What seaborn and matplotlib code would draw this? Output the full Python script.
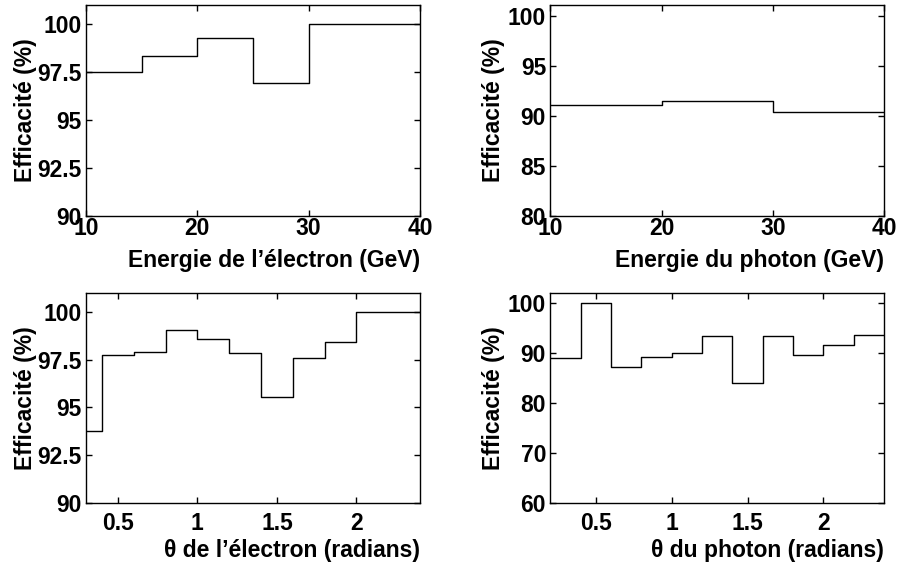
import numpy as np
import pandas as pd
import matplotlib
matplotlib.use("Agg")
import matplotlib.pyplot as plt
import seaborn as sns

# ---- data ----
e_edges = [10, 15, 20, 25, 30, 40]
e_eff = [97.5, 98.34, 99.28, 96.91, 100.0]

g_edges = [10, 20, 30, 40]
g_eff = [91.05, 91.5, 90.4]

theta_edges = [0.2, 0.4, 0.6, 0.8, 1.0, 1.2, 1.4, 1.6, 1.8, 2.0, 2.2, 2.4]
te_eff = [93.76, 97.76, 97.91, 99.06, 98.56, 97.86, 95.55, 97.58, 98.42, 100.0, 100.0]
tg_eff = [88.94, 100.0, 87.1, 89.2, 89.9, 93.4, 83.95, 93.3, 89.5, 91.5, 93.5]

ylabel = "Efficacité (%)"
xlabels = ["Energie de l’électron (GeV)", "Energie du photon (GeV)",
           "θ de l’électron (radians)", "θ du photon (radians)"]

sns.set_style("ticks")
plt.rcParams['font.family'] = ['Liberation Sans', 'DejaVu Sans']
plt.rcParams['font.weight'] = 'bold'
plt.rcParams['axes.labelweight'] = 'bold'
for k in ['text.color', 'axes.labelcolor', 'xtick.color', 'ytick.color',
          'xtick.labelcolor', 'ytick.labelcolor', 'axes.edgecolor']:
    plt.rcParams[k] = 'black'

FS = 16.5

fig = plt.figure(figsize=(8.99, 5.62), dpi=100)
pos = {
    0: [0.0957, 0.616, 0.3715, 0.375],
    1: [0.612, 0.616, 0.3715, 0.375],
    2: [0.0957, 0.1055, 0.3715, 0.3735],
    3: [0.612, 0.1055, 0.3715, 0.3735],
}
axes = [fig.add_axes(pos[i]) for i in range(4)]

def step(ax, edges, vals):
    e = np.asarray(edges, float)
    df = pd.DataFrame({"x": (e[:-1] + e[1:]) / 2, "w": vals})
    sns.histplot(data=df, x="x", weights="w", bins=list(edges), element="step",
                 fill=False, color="black", linewidth=1.0, ax=ax)

step(axes[0], e_edges, e_eff)
step(axes[1], g_edges, g_eff)
step(axes[2], theta_edges, te_eff)
step(axes[3], theta_edges, tg_eff)

cfg = [
    dict(xlim=(10, 40), ylim=(90, 101), xt=[10, 20, 30, 40], xtl=["10", "20", "30", "40"],
         yt=[90, 92.5, 95, 97.5, 100], ytl=["90", "92.5", "95", "97.5", "100"],
         xpad=1.0, lpad=6, ylpad=0),
    dict(xlim=(10, 40), ylim=(80, 101.1), xt=[10, 20, 30, 40], xtl=["10", "20", "30", "40"],
         yt=[80, 85, 90, 95, 100], ytl=["80", "85", "90", "95", "100"],
         xpad=1.0, lpad=6, ylpad=2),
    dict(xlim=(0.3, 2.4), ylim=(90, 101), xt=[0.5, 1, 1.5, 2], xtl=["0.5", "1", "1.5", "2"],
         yt=[90, 92.5, 95, 97.5, 100], ytl=["90", "92.5", "95", "97.5", "100"],
         xpad=6.5, lpad=3, ylpad=0),
    dict(xlim=(0.2, 2.4), ylim=(60, 102), xt=[0.5, 1, 1.5, 2], xtl=["0.5", "1", "1.5", "2"],
         yt=[60, 70, 80, 90, 100], ytl=["60", "70", "80", "90", "100"],
         xpad=6.5, lpad=3, ylpad=2),
]

for ax, c, xl in zip(axes, cfg, xlabels):
    ax.set_xlim(*c["xlim"])
    ax.set_ylim(*c["ylim"])
    ax.set_xticks(c["xt"])
    ax.set_xticklabels(c["xtl"])
    ax.set_yticks(c["yt"])
    ax.set_yticklabels(c["ytl"])
    ax.tick_params(direction="in", top=True, right=True, length=4.5, width=1,
                   labelsize=FS, color="black", labelcolor="black")
    ax.tick_params(axis="x", pad=c["xpad"])
    ax.tick_params(axis="y", pad=3)
    for lab in ax.get_xticklabels() + ax.get_yticklabels():
        lab.set_fontweight("bold")
    for s in ax.spines.values():
        s.set_visible(True)
        s.set_linewidth(1.0)
        s.set_color("black")
    ax.set_xlabel(xl, fontsize=FS, fontweight="bold", loc="right", labelpad=c["lpad"],
                  color="black")
    ax.set_ylabel(ylabel, fontsize=FS, fontweight="bold", labelpad=c["ylpad"],
                  color="black")

fig.savefig("out.png", dpi=100)
